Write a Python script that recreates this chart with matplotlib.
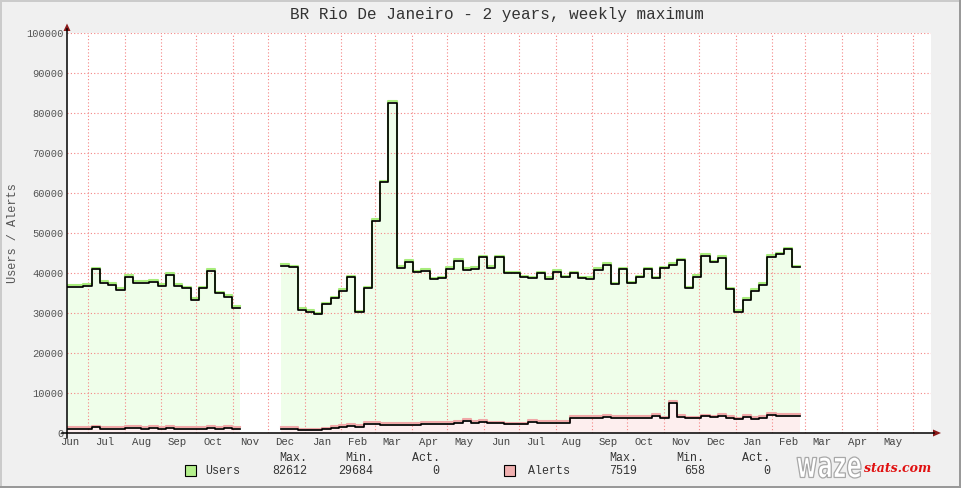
import numpy as np
import pandas as pd
import matplotlib
matplotlib.use('Agg')
import matplotlib.pyplot as plt
import matplotlib.dates as mdates
from matplotlib import transforms
from matplotlib.lines import Line2D
from matplotlib.patches import Polygon, Rectangle, PathPatch
from matplotlib.textpath import TextPath
from matplotlib.font_manager import FontProperties

title = "BR Rio De Janeiro - 2 years, weekly maximum"

# time window of the graph and start of the first weekly sample
x_start = '2011-06-13'
x_end = '2013-06-16'
first_week = '2011-06-13'

nan = np.nan
# weekly maximum of users (nan = no data)
users = [36600, 36600, 36800, 40900, 37500, 37100, 35800, 39000, 37500, 37500,
         37800, 36800, 39500, 36800, 36200, 33300, 36200, 40600, 34900, 34100,
         31300, nan, nan, nan, nan, nan, 41800, 41400, 30800, 30300,
         29684, 32200, 33700, 35500, 38900, 30200, 36200, 53000, 62700, 82612,
         41300, 42800, 40200, 40500, 38400, 38700, 41000, 43000, 40800, 41000,
         43900, 41300, 43900, 39900, 39900, 38900, 38700, 39900, 38500, 40300,
         38900, 39900, 38700, 38500, 40800, 42000, 37200, 40900, 37400, 38900,
         40900, 38700, 41200, 42000, 43200, 36200, 39100, 44300, 42700, 43800,
         35900, 30300, 33300, 35500, 37000, 44100, 44700, 45900, 41400]

# weekly maximum of alerts
alerts = [1100, 1100, 1100, 1400, 1100, 1100, 1100, 1300, 1300, 1000,
          1300, 1000, 1300, 1100, 1100, 1100, 1100, 1300, 1100, 1300,
          1100, nan, nan, nan, nan, nan, 1000, 1000, 700, 700,
          658, 900, 1300, 1500, 1800, 1500, 2250, 2250, 2000, 2000,
          2000, 2000, 2000, 2300, 2300, 2250, 2250, 2600, 3100, 2500,
          2800, 2400, 2400, 2200, 2200, 2200, 2800, 2500, 2500, 2600,
          2600, 3800, 3800, 3800, 3800, 4000, 3750, 3750, 3750, 3750,
          3750, 4300, 3700, 7519, 4000, 3700, 3700, 4200, 3900, 4250,
          3800, 3400, 4000, 3500, 3800, 4500, 4250, 4250, 4250]

W, H = 961, 488
plt.rcParams['font.family'] = ['Liberation Mono', 'DejaVu Sans Mono']

def fx(x):
    return x / W

def fy(y):
    return 1 - y / H

fig = plt.figure(figsize=(W / 100, H / 100), dpi=100, facecolor='#f0f0f0')
ax = fig.add_axes([fx(67), fy(433), 864 / W, 400 / H])
ax.set_facecolor('white')

weeks = pd.date_range(first_week, periods=len(users) + 1, freq='7D')
u = np.append(users, nan)
a = np.append(alerts, nan)

# areas
ax.fill_between(weeks, np.nan_to_num(u), step='post', color='#effeea', lw=0, zorder=1)
ax.fill_between(weeks, np.nan_to_num(a), step='post', color='#fdeeee', lw=0, zorder=1.1)

# lines: coloured one pixel above, black on top
up = transforms.offset_copy(ax.transData, fig=fig, x=0, y=1.6, units='dots')
ax.step(weeks, u, where='post', color='#a8ec7c', lw=1.5, transform=up, zorder=3)
ax.step(weeks, u, where='post', color='black', lw=1.25, zorder=4)
ax.step(weeks, a, where='post', color='#f0a8a8', lw=1.5, transform=up, zorder=3)
ax.step(weeks, a, where='post', color='black', lw=1.25, zorder=4)

ax.set_xlim(pd.Timestamp(x_start), pd.Timestamp(x_end))
ax.set_ylim(0, 100000)

# month grid on the 1st, labels mid month
grid_dates = pd.date_range('2011-07-01', '2013-06-01', freq='MS')
label_dates = pd.date_range('2011-06-01', '2013-05-01', freq='MS') + pd.Timedelta(days=14)
ax.set_xticks(label_dates)
ax.xaxis.set_major_formatter(mdates.DateFormatter('%b'))
ax.set_xticks(grid_dates, minor=True)
yt = np.arange(0, 100001, 10000)
ax.set_yticks(yt)
ax.set_yticklabels([str(v) for v in yt])

gridstyle = dict(color='#f58484', lw=0.8, linestyle=(0, (1, 2)))
ax.grid(which='minor', axis='x', **gridstyle)
ax.grid(which='major', axis='y', **gridstyle)
ax.set_axisbelow('line')

ax.tick_params(which='both', length=0)
ax.tick_params(axis='x', labelsize=7.7, pad=3.2, colors='#444444')
ax.tick_params(axis='y', labelsize=7.5, pad=2.6, colors='#555555')
for s in ax.spines.values():
    s.set_visible(False)

# axis lines with arrows
fig.add_artist(Line2D([fx(62), fx(934)], [fy(433), fy(433)], transform=fig.transFigure,
                      color='black', lw=1.1))
fig.add_artist(Line2D([fx(67), fx(67)], [fy(438), fy(29)], transform=fig.transFigure,
                      color='black', lw=1.1))
fig.add_artist(Polygon([[fx(933), fy(429.5)], [fx(941), fy(433)], [fx(933), fy(436.5)]],
                       closed=True, transform=fig.transFigure, color='#8b1a1a', lw=0))
fig.add_artist(Polygon([[fx(63.5), fy(31)], [fx(67), fy(23.5)], [fx(70.5), fy(31)]],
                       closed=True, transform=fig.transFigure, color='#8b1a1a', lw=0))

# texts
fig.text(fx(497), fy(15), title, ha='center', va='center', fontsize=11.5, color='#333333')
fig.text(fx(13), fy(233), 'Users / Alerts', ha='center', va='center', rotation=90,
         fontsize=8.6, color='#555555')

# legend
leg = dict(fontsize=8.4, color='#333333', va='center')
fig.text(fx(307), fy(458), 'Max.', ha='right', **leg)
fig.text(fx(373), fy(458), 'Min.', ha='right', **leg)
fig.text(fx(440), fy(458), 'Act.', ha='right', **leg)
fig.text(fx(637), fy(458), 'Max.', ha='right', **leg)
fig.text(fx(704), fy(458), 'Min.', ha='right', **leg)
fig.text(fx(770), fy(458), 'Act.', ha='right', **leg)

fig.add_artist(Rectangle((fx(184.5), fy(475.5)), 11 / W, 11 / H, transform=fig.transFigure,
                         facecolor='#b4f08c', edgecolor='black', lw=0.8))
fig.text(fx(205), fy(470.5), 'Users', ha='left', **leg)
fig.text(fx(307), fy(470.5), '%d' % np.nanmax(users), ha='right', **leg)
fig.text(fx(373), fy(470.5), '%d' % np.nanmin(users), ha='right', **leg)
fig.text(fx(439), fy(470.5), '0', ha='right', **leg)

fig.add_artist(Rectangle((fx(503.5), fy(475.5)), 11 / W, 11 / H, transform=fig.transFigure,
                         facecolor='#f0b0b0', edgecolor='black', lw=0.8))
fig.text(fx(528), fy(470.5), 'Alerts', ha='left', **leg)
fig.text(fx(637), fy(470.5), '%d' % np.nanmax(alerts), ha='right', **leg)
fig.text(fx(705), fy(470.5), '%d' % np.nanmin(alerts), ha='right', **leg)
fig.text(fx(770), fy(470.5), '0', ha='right', **leg)

# waze stats logo
tp = TextPath((0, 0), 'waze', size=1, prop=FontProperties(family='DejaVu Sans', weight='bold'))
bb = tp.get_extents()
tr = transforms.Affine2D().translate(-bb.x0, -bb.y0).scale(64 / bb.width, 21 / bb.height)
tr = tr.translate(797, H - 478)
fig.add_artist(PathPatch(tr.transform_path(tp), facecolor='white', edgecolor='#a8a8a8', lw=0.9,
                         transform=transforms.IdentityTransform()))
fig.text(fx(864), fy(468), 'stats.com', ha='left', va='center', fontsize=9, color='#e01010',
         family='DejaVu Serif', weight='bold', style='italic')

# frame around the image
fig.add_artist(Rectangle((0, 1 - 2 / H), 1, 2 / H, transform=fig.transFigure, color='#cbcbcb', lw=0))
fig.add_artist(Rectangle((0, 0), 2 / W, 1, transform=fig.transFigure, color='#cbcbcb', lw=0))
fig.add_artist(Rectangle((0, 0), 1, 2 / H, transform=fig.transFigure, color='#999999', lw=0))
fig.add_artist(Rectangle((1 - 2 / W, 0), 2 / W, 1, transform=fig.transFigure, color='#999999', lw=0))

fig.savefig('out.png', dpi=100, facecolor=fig.get_facecolor())
